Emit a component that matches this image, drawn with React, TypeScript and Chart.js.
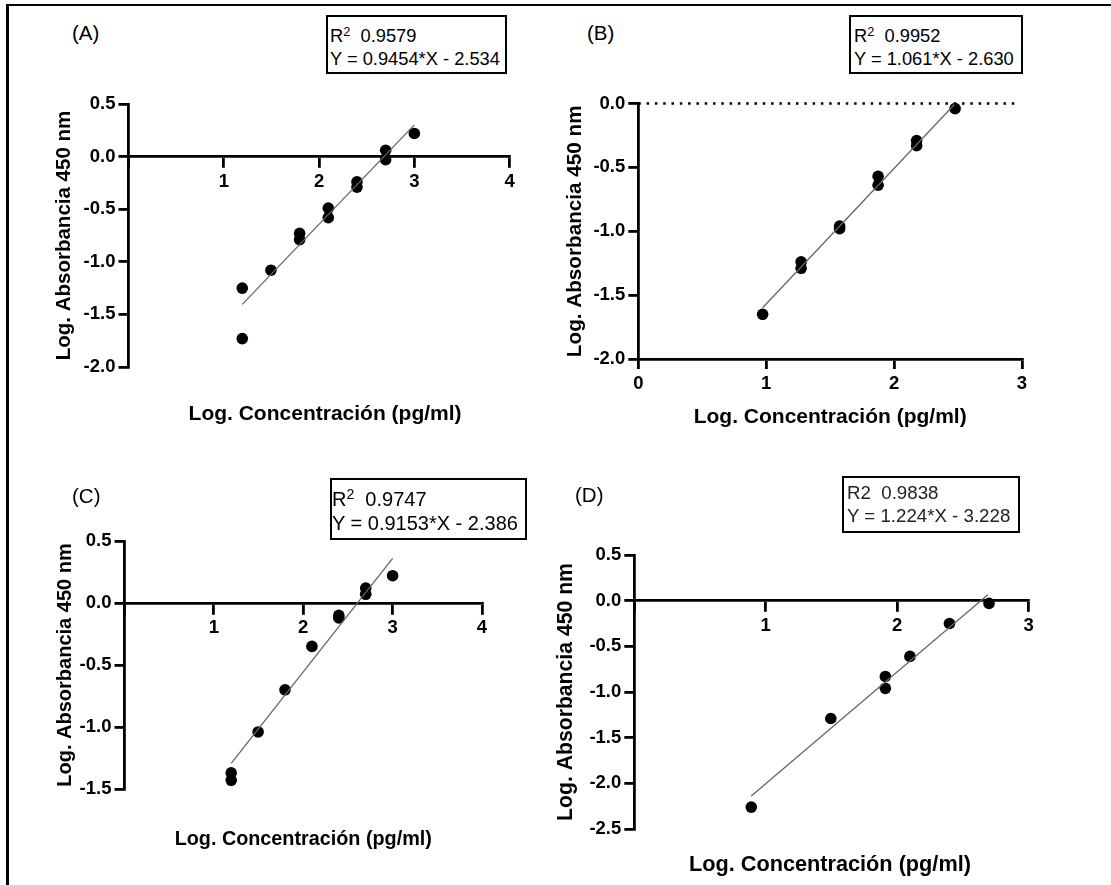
import React, { useEffect, useRef } from 'react';
import { Chart, registerables } from 'chart.js';

Chart.register(...registerables);

const FONT = "'Liberation Sans', Arial, Helvetica, sans-serif";

// ---- Panel A ----
const xA = [1.194, 1.194, 1.495, 1.796, 1.796, 2.097, 2.097, 2.398, 2.398, 2.699, 2.699, 3.0];
const yA = [-1.25, -1.73, -1.08, -0.73, -0.79, -0.49, -0.58, -0.24, -0.29, 0.06, -0.03, 0.22];
const fitXA = [1.194, 3.0];
const fitYA = [-1.405, 0.302];

// ---- Panel B ----
const xB = [0.972, 1.273, 1.273, 1.574, 1.574, 1.875, 1.875, 2.176, 2.176, 2.477];
const yB = [-1.65, -1.24, -1.29, -0.96, -0.98, -0.57, -0.64, -0.29, -0.33, -0.04];
const fitXB = [0.972, 2.477];
const fitYB = [-1.599, -0.002];
const refXB = [0, 2.97];
const refYB = [0, 0];

// ---- Panel C ----
const xC = [1.194, 1.194, 1.495, 1.796, 2.097, 2.398, 2.398, 2.699, 2.699, 3.0];
const yC = [-1.37, -1.43, -1.04, -0.7, -0.35, -0.1, -0.12, 0.12, 0.07, 0.22];
const fitXC = [1.194, 3.0];
const fitYC = [-1.293, 0.36];

// ---- Panel D ----
const xD = [0.89, 1.495, 1.91, 1.91, 2.097, 2.398, 2.699];
const yD = [-2.26, -1.29, -0.83, -0.96, -0.61, -0.25, -0.03];
const fitXD = [0.89, 2.69];
const fitYD = [-2.139, 0.065];

const xTitle = 'Log. Concentración (pg/ml)';
const yTitle = 'Log. Absorbancia 450 nm';

const xTitlePlugin = {
  id: 'xTitle',
  afterDraw(chart: any, _args: any, opts: any) {
    if (!opts || !opts.text) return;
    const { ctx, chartArea } = chart;
    ctx.save();
    ctx.font = `bold ${opts.size}px ${FONT}`;
    ctx.fillStyle = '#000';
    ctx.textAlign = 'center';
    ctx.textBaseline = 'middle';
    ctx.fillText(opts.text, (chartArea.left + chartArea.right) / 2 + opts.dx, chartArea.bottom + opts.dy);
    ctx.restore();
  },
};

type PanelDef = {
  key: string;
  xs: number[]; ys: number[]; fitX: number[]; fitY: number[];
  refX?: number[]; refY?: number[];
  xMin: number; xMax: number; yMin: number; yMax: number;
  xAtZero: boolean;
  cx: number; cy: number; cw: number; ch: number;
  area: [number, number, number, number];
  yTitleX: number; yTitleSize: number;
  xTitleSize: number; xTitleDy: number; xTitleDx: number;
};

const panels: PanelDef[] = [
  {
    key: 'A', xs: xA, ys: yA, fitX: fitXA, fitY: fitYA,
    xMin: 0, xMax: 4, yMin: -2, yMax: 0.5, xAtZero: true,
    cx: 10, cy: 80, cw: 545, ch: 360, area: [128.5, 104, 509.6, 357],
    yTitleX: 64.5, yTitleSize: 20.5, xTitleSize: 21, xTitleDy: 47, xTitleDx: 6,
  },
  {
    key: 'B', xs: xB, ys: yB, fitX: fitXB, fitY: fitYB, refX: refXB, refY: refYB,
    xMin: 0, xMax: 3, yMin: -2, yMax: 0, xAtZero: false,
    cx: 550, cy: 80, cw: 561, ch: 360, area: [638.3, 103.5, 1022, 359],
    yTitleX: 575, yTitleSize: 20.7, xTitleSize: 21, xTitleDy: 58, xTitleDx: 0,
  },
  {
    key: 'C', xs: xC, ys: yC, fitX: fitXC, fitY: fitYC,
    xMin: 0, xMax: 4, yMin: -1.5, yMax: 0.5, xAtZero: true,
    cx: 10, cy: 445, cw: 545, ch: 440, area: [124.5, 541, 482, 779],
    yTitleX: 65, yTitleSize: 20, xTitleSize: 19.8, xTitleDy: 51, xTitleDx: 0,
  },
  {
    key: 'D', xs: xD, ys: yD, fitX: fitXD, fitY: fitYD,
    xMin: 0, xMax: 3, yMin: -2.5, yMax: 0.5, xAtZero: true,
    cx: 550, cy: 445, cw: 561, ch: 440, area: [634.3, 555, 1028.6, 819],
    yTitleX: 566, yTitleSize: 21.2, xTitleSize: 21.7, xTitleDy: 36, xTitleDx: -1.5,
  },
];

function Panel({ p }: { p: PanelDef }) {
  const ref = useRef<HTMLCanvasElement | null>(null);
  useEffect(() => {
    if (!ref.current) return;
    const lh = p.yTitleSize * 1.2;
    const padLeft = p.yTitleX - p.cx - lh / 2;
    const wy = p.area[0] - p.cx - padLeft;
    const padTop = p.area[1] - p.cy;
    const padRight = p.cx + p.cw - p.area[2];
    const hx = p.xAtZero ? 10 : 40;
    const padBottom = p.cy + p.ch - p.area[3] - hx;

    const tickFont = { family: FONT, size: 18.5, weight: 'bold' as const };
    const datasets: any[] = [];
    if (p.refX && p.refY) {
      datasets.push({
        type: 'line',
        data: p.refX.map((x, i) => ({ x, y: p.refY![i] })),
        borderColor: '#000', borderWidth: 2.5, borderDash: [2.5, 5.8], borderCapStyle: 'butt',
        pointRadius: 0, fill: false, clip: false,
      });
    }
    datasets.push({
      type: 'line',
      data: p.fitX.map((x, i) => ({ x, y: p.fitY[i] })),
      borderColor: '#666', borderWidth: 1.3, pointRadius: 0, fill: false, clip: false,
    });
    datasets.push({
      type: 'scatter',
      data: p.xs.map((x, i) => ({ x, y: p.ys[i] })),
      backgroundColor: '#000', borderColor: '#000', borderWidth: 0, pointRadius: 5.8, clip: false,
    });

    const chart = new Chart(ref.current, {
      type: 'scatter',
      data: { datasets },
      plugins: [xTitlePlugin as any],
      options: {
        responsive: false,
        animation: false,
        events: [],
        layout: { padding: { left: padLeft, top: padTop, right: padRight, bottom: padBottom } },
        plugins: {
          legend: { display: false },
          tooltip: { enabled: false },
          xTitle: { text: xTitle, size: p.xTitleSize, dy: p.xTitleDy, dx: p.xTitleDx },
        } as any,
        scales: {
          x: {
            type: 'linear',
            min: p.xMin, max: p.xMax,
            position: p.xAtZero ? ({ y: 0 } as any) : 'bottom',
            ticks: {
              stepSize: 1, color: '#000', font: tickFont, padding: 4, maxRotation: 0, autoSkip: false,
              callback: (v: any) => (p.xAtZero && Number(v) === 0 ? '' : String(Number(v))),
            },
            grid: { display: true, drawOnChartArea: false, drawTicks: true, tickLength: 10, lineWidth: 2.8, color: '#000' },
            border: { display: true, width: 2.8, color: '#000' },
            afterFit: (s: any) => { s.height = hx; },
          },
          y: {
            type: 'linear',
            min: p.yMin, max: p.yMax,
            position: 'left',
            ticks: {
              stepSize: 0.5, color: '#000', font: tickFont, padding: 3, autoSkip: false,
              callback: (v: any) => Number(v).toFixed(1),
            },
            grid: { display: true, drawOnChartArea: false, drawTicks: true, tickLength: 10, lineWidth: 2.8, color: '#000' },
            border: { display: true, width: 2.8, color: '#000' },
            title: {
              display: true, text: yTitle, color: '#000', padding: 0,
              font: { family: FONT, size: p.yTitleSize, weight: 'bold', lineHeight: 1.2 },
            },
            afterFit: (s: any) => { s.width = wy; },
          },
        },
      } as any,
    });
    return () => chart.destroy();
  }, [p]);
  return (
    <canvas
      ref={ref}
      width={p.cw}
      height={p.ch}
      style={{ position: 'absolute', left: p.cx, top: p.cy, width: p.cw, height: p.ch }}
    />
  );
}

type BoxDef = {
  left: number; top: number; width: number; height: number;
  textLeft: number; line1Y: number; line2Y: number; size: number; color: string;
  r2: string; sup: boolean; eq: string;
};

const boxes: BoxDef[] = [
  { left: 326, top: 15, width: 181, height: 59, textLeft: 330, line1Y: 36, line2Y: 59, size: 18.3, color: '#000', r2: '0.9579', sup: true, eq: 'Y = 0.9454*X - 2.534' },
  { left: 849, top: 15, width: 174, height: 59, textLeft: 854, line1Y: 36, line2Y: 59, size: 18.3, color: '#000', r2: '0.9952', sup: true, eq: 'Y = 1.061*X - 2.630' },
  { left: 329.5, top: 478, width: 197, height: 62, textLeft: 332, line1Y: 499, line2Y: 523, size: 20, color: '#000', r2: '0.9747', sup: true, eq: 'Y = 0.9153*X - 2.386' },
  { left: 842, top: 476, width: 178, height: 57, textLeft: 847, line1Y: 493, line2Y: 516, size: 18.7, color: '#222', r2: '0.9838', sup: false, eq: 'Y = 1.224*X - 3.228' },
];

const labels = [
  { text: '(A)', left: 72, y: 33 },
  { text: '(B)', left: 587, y: 33 },
  { text: '(C)', left: 72, y: 496 },
  { text: '(D)', left: 575, y: 495 },
];

export default function App() {
  const LH = 22;
  return (
    <div style={{ position: 'absolute', left: 0, top: 0, width: 1111, height: 885, overflow: 'hidden', background: '#fff', fontFamily: FONT }}>
      {panels.map((p) => <Panel key={p.key} p={p} />)}
      <div style={{ position: 'absolute', left: 6, top: 4, width: 1105, height: 2, background: '#000' }} />
      <div style={{ position: 'absolute', left: 6, top: 4, width: 2.5, height: 881, background: '#000' }} />
      {labels.map((l) => (
        <div key={l.text} style={{ position: 'absolute', left: l.left, top: l.y - 12, lineHeight: '24px', fontSize: 20.5, color: '#000', whiteSpace: 'nowrap' }}>
          {l.text}
        </div>
      ))}
      {boxes.map((b, i) => (
        <React.Fragment key={i}>
          <div style={{ position: 'absolute', left: b.left, top: b.top, width: b.width, height: b.height, border: '2px solid #000', boxSizing: 'border-box' }} />
          <div style={{ position: 'absolute', left: b.textLeft, top: b.line1Y - LH / 2, lineHeight: LH + 'px', fontSize: b.size, color: b.color, whiteSpace: 'pre' }}>
            {b.sup ? (
              <>R<sup style={{ fontSize: '0.7em', verticalAlign: '0.5em', lineHeight: 0 }}>2</sup>{'  ' + b.r2}</>
            ) : (
              <>{'R2  ' + b.r2}</>
            )}
          </div>
          <div style={{ position: 'absolute', left: b.textLeft, top: b.line2Y - LH / 2, lineHeight: LH + 'px', fontSize: b.size, color: b.color, whiteSpace: 'pre' }}>
            {b.eq}
          </div>
        </React.Fragment>
      ))}
    </div>
  );
}
